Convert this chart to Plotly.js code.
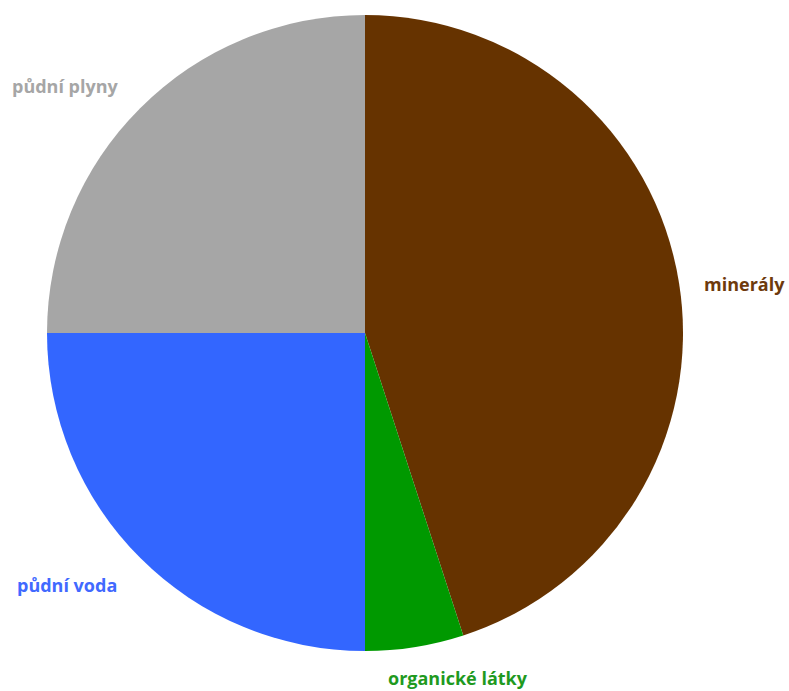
<!DOCTYPE html>
<html>
<head>
<meta charset="utf-8">
<script src="https://cdn.plot.ly/plotly-3.0.1.min.js"></script>
<style>html,body{margin:0;padding:0;background:#fff;}#chart{width:789px;height:691px;}</style>
</head>
<body>
<div id="chart"></div>
<script>
const categories = ["minerály", "organické látky", "půdní voda", "půdní plyny"];
const values = [45, 5, 25, 25];
const sliceColors = ["#663300", "#009900", "#3366FF", "#A6A6A6"];
const labelColors = ["#6E3A0C", "#1F9A1F", "#4169FF", "#A6A6A6"];
// label anchor positions in pixels (layout only)
const labelPos = [[744, 284], [458, 678], [67, 585], [65, 86]];

const W = 789, H = 691;

const trace = {
  type: "pie",
  labels: categories,
  values: values,
  sort: false,
  direction: "clockwise",
  rotation: 0,
  marker: { colors: sliceColors, line: { width: 0 } },
  textinfo: "none",
  hoverinfo: "label+percent",
  showlegend: false,
  domain: { x: [47/W, 683/W], y: [1 - 651/H, 1 - 15/H] }
};

const annotations = categories.map((c, i) => ({
  text: "<b>" + c + "</b>",
  xref: "paper", yref: "paper",
  x: labelPos[i][0] / W, y: 1 - labelPos[i][1] / H,
  xanchor: "center", yanchor: "middle",
  showarrow: false,
  font: { family: "Open Sans, sans-serif", size: 18, color: labelColors[i] }
}));

const layout = {
  width: W,
  height: H,
  margin: { l: 0, r: 0, t: 0, b: 0 },
  paper_bgcolor: "#ffffff",
  plot_bgcolor: "#ffffff",
  showlegend: false,
  annotations: annotations
};

Plotly.newPlot("chart", [trace], layout, { displayModeBar: false, staticPlot: true });
</script>
</body>
</html>
